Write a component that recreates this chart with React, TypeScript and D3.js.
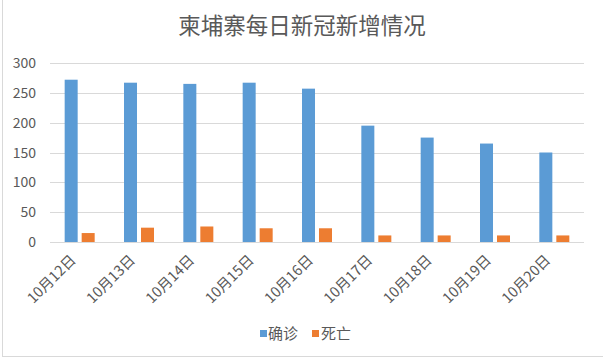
import React from "react";
import * as d3 from "d3";

const categories = ["10月12日", "10月13日", "10月14日", "10月15日", "10月16日", "10月17日", "10月18日", "10月19日", "10月20日"];
const seriesNames = ["确诊", "死亡"];
const confirmed = [272, 267, 265, 267, 257, 195, 175, 165, 150];
const deaths = [15, 24, 26, 23, 23, 11, 11, 11, 11];
const yTicks = [0, 50, 100, 150, 200, 250, 300];
const title = "柬埔寨每日新冠新增情况";

const colors = ["#5b9bd5", "#ed7d31"];
const FONT = "'Noto Sans CJK SC', 'Noto Sans', sans-serif";

export default function App() {
  const W = 603, H = 359;
  const x0 = d3.scaleBand<string>().domain(categories).range([50, 584]);
  const groupW = 30;
  const x1 = d3.scaleBand<string>().domain(seriesNames).range([0, groupW]).paddingInner(0.235).paddingOuter(0);
  const y = d3.scaleLinear().domain([0, 300]).range([242, 63]);
  const values = [confirmed, deaths];
  const off = (x0.bandwidth() - groupW) / 2;

  return (
    <svg width={W} height={H} style={{ position: "absolute", left: 0, top: 0, background: "#fff" }} fontFamily={FONT}>
      <rect x={0} y={0} width={W} height={H} fill="#fff" />
      {/* spreadsheet frame */}
      <line x1={2.5} y1={0} x2={2.5} y2={357} stroke="#d9d9d9" />
      <line x1={2.5} y1={356.5} x2={W} y2={356.5} stroke="#d9d9d9" />
      <text x={302} y={34} textAnchor="middle" fontSize={22.5} fill="#595959">{title}</text>
      {yTicks.map((t) => (
        <g key={t}>
          <line x1={50} x2={584} y1={Math.round(y(t)) + 0.5} y2={Math.round(y(t)) + 0.5} stroke="#d9d9d9" strokeWidth={1} />
          <text x={36} y={y(t) + 5} textAnchor="end" fontSize={14} fill="#595959">{t}</text>
        </g>
      ))}
      {categories.map((c, i) => (
        <g key={c}>
          {seriesNames.map((s, j) => (
            <rect key={s} x={(x0(c) as number) + off + (x1(s) as number)} y={y(values[j][i])}
              width={x1.bandwidth()} height={y(0) - y(values[j][i])} fill={colors[j]} />
          ))}
          <text transform={`translate(${(x0(c) as number) + x0.bandwidth() / 2 - 3},${261}) rotate(-45)`}
            textAnchor="end" fontSize={14.5} fill="#595959">{c}</text>
        </g>
      ))}
      <g>
        <rect x={260} y={330} width={7} height={7} fill={colors[0]} />
        <text x={268} y={339} fontSize={15} fill="#595959">{seriesNames[0]}</text>
        <rect x={312} y={330} width={7} height={7} fill={colors[1]} />
        <text x={321} y={339} fontSize={15} fill="#595959">{seriesNames[1]}</text>
      </g>
    </svg>
  );
}
